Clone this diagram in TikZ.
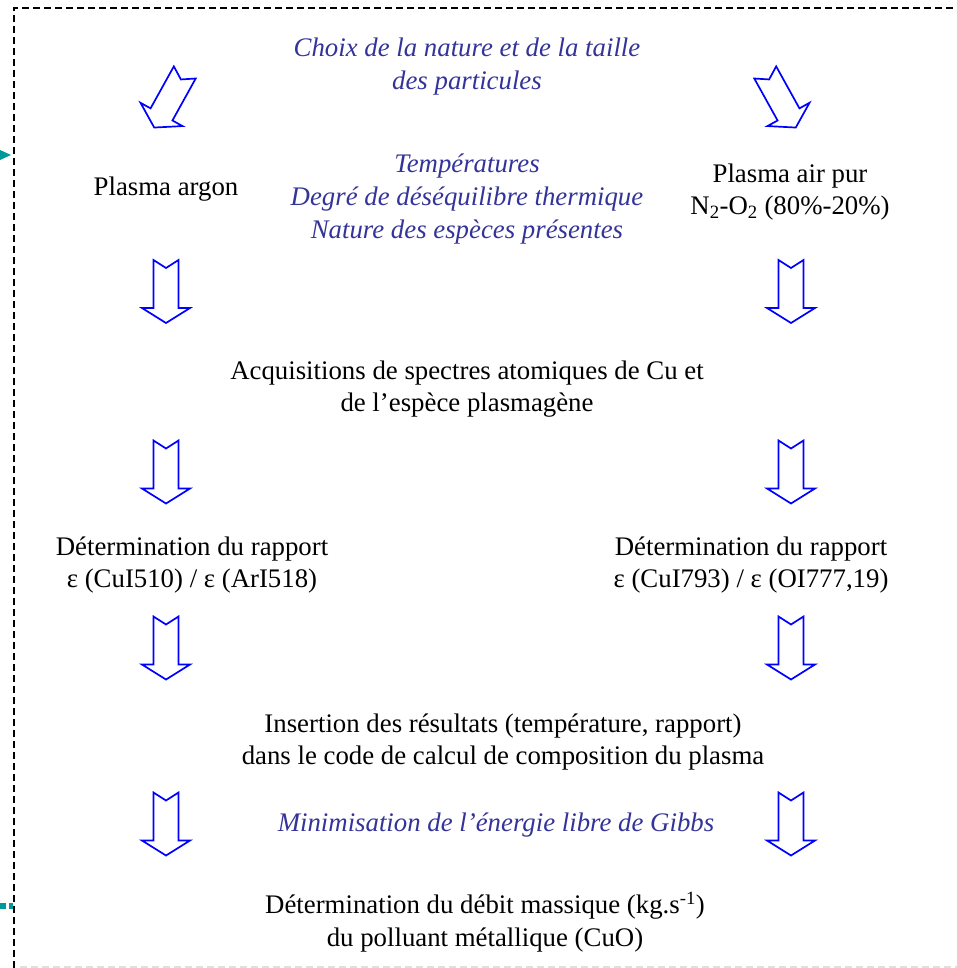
\documentclass[tikz,border=0pt]{standalone}
\usepackage{fontspec}
\setmainfont{Liberation Serif}
\definecolor{itblue}{RGB}{51,51,153}
\definecolor{arrblue}{RGB}{0,0,255}
\definecolor{teal2}{RGB}{0,153,153}
\tikzset{
  txt/.style={align=center,font=\fontsize{26.8}{32.5}\selectfont,inner sep=0pt},
  ittxt/.style={txt,text=itblue,font=\fontsize{26.8}{33}\selectfont\itshape},
  frame/.style={line width=2pt,dash pattern=on 7pt off 4pt},
  pics/blockarrow/.style={code={
    \draw[arrblue,line width=1.7pt,line join=miter,fill=white]
      (-12.5,-31.5) -- (0,-23.5) -- (12.5,-31.5) -- (12.5,16.5) -- (24,16.5)
      -- (0,31.5) -- (-24,16.5) -- (-12.5,16.5) -- cycle;
  }}
}
\begin{document}
\begin{tikzpicture}[x=1pt,y=-1pt]
\useasboundingbox (0,0) rectangle (956,968);
% frame
\draw[frame] (14,968) -- (14,8) -- (960,8);
\draw[line width=2pt,dash pattern=on 7pt off 4pt,gray!25] (20,967) -- (960,967);
\fill[teal2] (0,150) -- (11,155) -- (0,160) -- cycle;
\fill[teal2] (0,903) rectangle (6,909);
\fill[teal2] (9,903) rectangle (13,909);
% texts
\node[ittxt] (title) at (467,67) {Choix de la nature et de la taille\\des particules};
\node[txt] (ar) at (166,189) {Plasma argon};
\node[ittxt] (cond) at (467,199) {Températures\\Degré de déséquilibre thermique\\Nature des espèces présentes};
\node[txt] (air) at (790,192) {Plasma air pur\\N\textsubscript{2}-O\textsubscript{2} (80\%-20\%)};
\node[txt] (acq) at (467,389) {Acquisitions de spectres atomiques de Cu et\\de l’espèce plasmagène};
\node[txt] (detL) at (192,565) {Détermination du rapport\\ε (CuI510) / ε (ArI518)};
\node[txt] (detR) at (751,565) {Détermination du rapport\\ε (CuI793) / ε (OI777,19)};
\node[txt] (ins) at (503,742) {Insertion des résultats (température, rapport)\\dans le code de calcul de composition du plasma};
\node[ittxt] (gibbs) at (496,825) {Minimisation de l’énergie libre de Gibbs};
\node[txt] (deb) at (485,922) {Détermination du débit massique (kg.s\textsuperscript{-1})\\du polluant métallique (CuO)};
% block arrows
\pic[rotate=-29] at (169.5,100) {blockarrow};
\pic[rotate=29] at (780.5,100) {blockarrow};
\foreach \y in {291.5,472,648,824}{
  \pic at (166,\y) {blockarrow};
  \pic at (791,\y) {blockarrow};
}
\end{tikzpicture}
\end{document}
